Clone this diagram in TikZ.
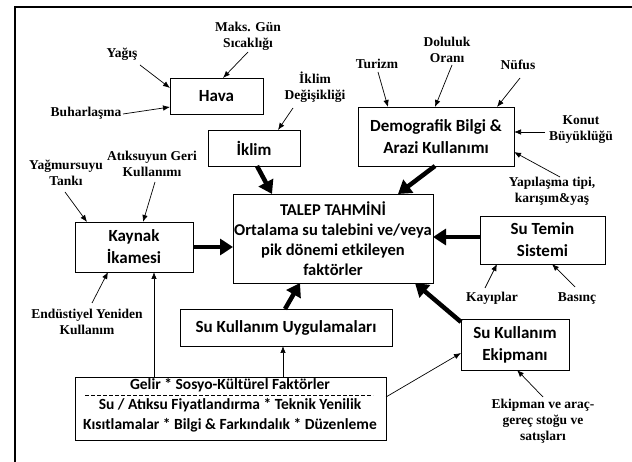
\documentclass[tikz,border=0pt]{standalone}
\usepackage{fontspec}
\newfontfamily\boxfont{Carlito}
\newfontfamily\labfont{Liberation Serif}
\usetikzlibrary{arrows.meta,calc}
\begin{document}
\begin{tikzpicture}[x=1pt,y=-1pt,
  box/.style={draw, line width=0.8pt, inner sep=0pt, align=center,
    font=\boxfont\bfseries\fontsize{17}{22}\selectfont},
  btxt/.style={inner sep=0pt, font=\boxfont\bfseries\fontsize{15.5}{18}\selectfont},
  lab/.style={align=center, inner sep=1pt,
    font=\labfont\bfseries\fontsize{13.5}{16}\selectfont},
  thin/.style={line width=0.7pt, -{Latex[length=7pt,width=5.5pt]}},
  thickarr/.style={line width=4.5pt, -{Triangle[length=13pt,width=16pt]}},
  frame/.style={line width=1.6pt}]
\useasboundingbox (0,0) rectangle (632,462);
\draw[frame] (15,462) -- (15,7) -- (632,7);

% boxes
\node[box, minimum width=93pt, minimum height=36pt] (hava) at (216.5,96) {Hava};
\node[box, minimum width=92pt, minimum height=36pt] (iklim) at (254,148) {İklim};
\node[box, minimum width=118pt, minimum height=50pt] (kaynak) at (134,247) {Kaynak\\İkamesi};
\node[box, minimum width=200pt, minimum height=89pt,
  font=\boxfont\bfseries\fontsize{16.5}{20}\selectfont] (talep) at (333,238.5)
  {TALEP TAHMİNİ\\Ortalama su talebini ve/veya\\pik dönemi etkileyen\\faktörler};
\node[box, minimum width=156pt, minimum height=59pt] (demo) at (436,136.5) {Demografik Bilgi \&\\Arazi Kullanımı};
\node[box, minimum width=125pt, minimum height=48pt] (sutemin) at (542.5,240) {Su Temin\\Sistemi};
\node[box, minimum width=212pt, minimum height=37pt] (sku) at (286,327.5) {Su Kullanım Uygulamaları};
\node[box, minimum width=108pt, minimum height=51pt] (ekip) at (515,344.5) {Su Kullanım\\Ekipmanı};
\node[box, minimum width=311pt, minimum height=63pt] (bottom) at (230.5,408.5) {};
\node[btxt] (b1) at (230,385) {Gelir * Sosyo-Kültürel Faktörler};
\node[btxt] (b2) at (230,405.5) {Su / Atıksu Fiyatlandırma * Teknik Yenilik};
\node[btxt] (b3) at (230,425.5) {Kısıtlamalar * Bilgi \& Farkındalık * Düzenleme};
\draw[line width=0.6pt, dash pattern=on 3.5pt off 2.5pt]
  ($(bottom)+(-145.5,-13.5)$) -- ($(bottom)+(142.5,-13.5)$);

% labels
\node[lab] (yagis) at (122,54) {Yağış};
\node[lab] (maks) at (248,36) {Maks. Gün\\Sıcaklığı};
\node[lab] (buhar) at (86,113) {Buharlaşma};
\node[lab] (iklimd) at (315,87) {İklim\\Değişikliği};
\node[lab] (yagm) at (66,173) {Yağmursuyu\\Tankı};
\node[lab] (atik) at (152,164) {Atıksuyun Geri\\Kullanımı};
\node[lab] (turizm) at (377,64) {Turizm};
\node[lab] (doluluk) at (447,50) {Doluluk\\Oranı};
\node[lab] (nufus) at (518,65) {Nüfus};
\node[lab] (konut) at (581,130) {Konut\\Büyüklüğü};
\node[lab] (yapi) at (552,191) {Yapılaşma tipi,\\karışım\&yaş};
\node[lab] (endus) at (87,322) {Endüstiyel Yeniden\\Kullanım};
\node[lab] (kayip) at (492,298) {Kayıplar};
\node[lab] (basinc) at (577,298) {Basınç};
\node[lab] (ekst) at (543,421) {Ekipman ve araç-\\gereç stoğu ve\\satışları};

% thin arrows
\draw[thin] ($(yagis)+(18,11)$) -- ($(hava)+(-46.5,-8)$);
\draw[thin] ($(maks)+(0,16)$) -- ($(hava)+(6.5,-18)$);
\draw[thin] ($(buhar)+(37,1)$) -- ($(hava)+(-46.5,11)$);
\draw[thin] ($(iklimd)+(-22,21)$) -- ($(iklim)+(24,-18)$);
\draw[thin] ($(atik)+(3,18)$) -- ($(kaynak)+(9,-25)$);
\draw[thin] ($(yagm)+(-1,19)$) -- ($(kaynak)+(-47,-25)$);
\draw[thin] ($(endus)+(5,-19)$) -- ($(kaynak)+(-26,25)$);
\draw[thin] ($(bottom)+(-76.5,-31.5)$) -- ($(kaynak)+(20,25)$);
\draw[thin] ($(bottom)+(52.5,-31.5)$) -- ($(sku)+(-3,18.5)$);
\draw[thin] ($(bottom)+(155.5,-11.5)$) -- ($(ekip)+(-54,8.5)$);
\draw[thin] ($(turizm)+(1,8)$) -- ($(demo)+(-48,-29.5)$);
\draw[thin] ($(doluluk)+(5,15)$) -- ($(demo)+(-1,-29.5)$);
\draw[thin] ($(nufus)+(2,13)$) -- ($(demo)+(61,-29.5)$);
\draw[thin] ($(konut)+(-36,2)$) -- ($(demo)+(78,-4.5)$);
\draw[thin] ($(yapi)+(8,-14)$) -- ($(demo)+(78,15.5)$);
\draw[thin] ($(kayip)+(-7,-10)$) -- ($(sutemin)+(-45.5,24)$);
\draw[thin] ($(basinc)+(-2,-11)$) -- ($(sutemin)+(9.5,24)$);
\draw[thin] ($(ekst)+(0,-24)$) -- ($(ekip)+(2,25.5)$);

% thick arrows
\draw[thickarr] ($(iklim)+(3,18)$) -- ($(talep)+(-61,-44.5)$);
\draw[thickarr] ($(demo)+(-1,29.5)$) -- ($(talep)+(65,-44.5)$);
\draw[thickarr] ($(kaynak)+(59,0)$) -- ($(talep)+(-100,8.5)$);
\draw[thickarr] ($(sutemin)+(-62.5,-3)$) -- ($(talep)+(100,-1.5)$);
\draw[thickarr] ($(sku)+(-1,-18.5)$) -- ($(talep)+(-33,44.5)$);
\draw[thickarr] ($(ekip)+(-54,-22.5)$) -- ($(talep)+(82,44.5)$);
\end{tikzpicture}
\end{document}
